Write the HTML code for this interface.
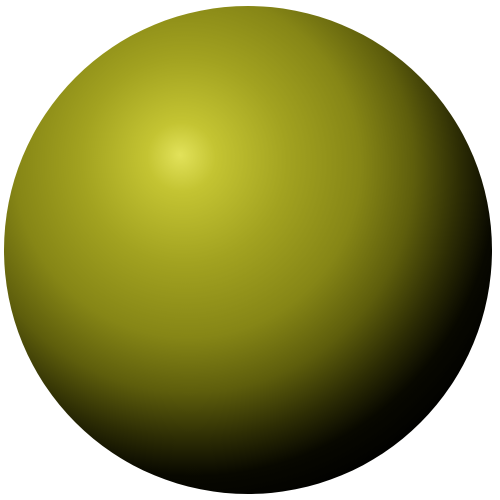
<!DOCTYPE html>
<html>
<head>
<meta charset="utf-8">
<style>
  html,body{margin:0;padding:0;background:#fff;width:500px;height:500px;overflow:hidden;}
</style>
</head>
<body>
<svg width="500" height="500" viewBox="0 0 500 500">
  <defs>
    <radialGradient id="g" cx="195" cy="175" r="345" fx="180" fy="155" gradientUnits="userSpaceOnUse">
      <stop offset="0" stop-color="#e2e25a"/>
      <stop offset="0.1" stop-color="#c4c432"/>
      <stop offset="0.3" stop-color="#a2a220"/>
      <stop offset="0.5" stop-color="#868616"/>
      <stop offset="0.65" stop-color="#5e5e0c"/>
      <stop offset="0.78" stop-color="#2c2c04"/>
      <stop offset="0.88" stop-color="#080800"/>
      <stop offset="1" stop-color="#000"/>
    </radialGradient>
  </defs>
  <circle cx="248" cy="250" r="244" fill="url(#g)"/>
</svg>
</body>
</html>
